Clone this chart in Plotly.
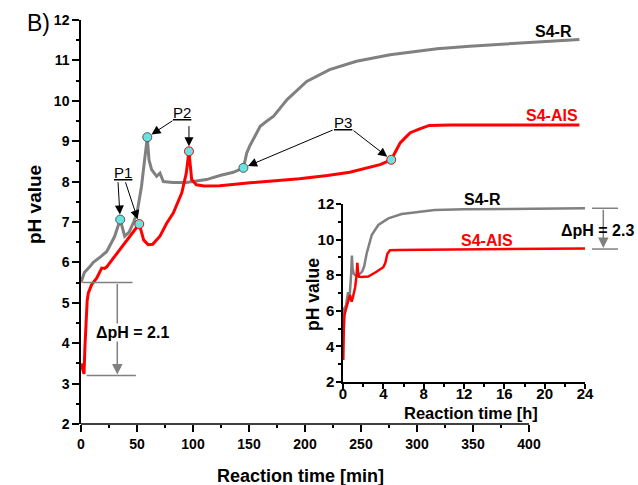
import plotly.graph_objects as go

# ---------------- data ----------------
# main plot (minutes)
gray_t = [0, 3, 8, 11, 18.5, 23, 30, 35, 39, 43, 47, 50, 54, 57, 59.2, 60.7, 63, 67.5, 70.5,
          73.5, 82, 94, 112, 124, 136, 145, 148, 151, 156, 160, 166, 172, 184, 201.5, 222,
          246, 276, 303, 318, 347, 380, 410, 445]
gray_ph = [5.5, 5.75, 5.9, 6.0, 6.16, 6.27, 6.64, 7.06, 6.65, 6.75, 7.0, 7.22, 7.88, 8.54, 9.1,
           8.54, 8.3, 8.13, 8.21, 8.0, 7.98, 7.98, 8.05, 8.15, 8.23, 8.34, 8.71, 8.9, 9.15,
           9.37, 9.5, 9.62, 10.03, 10.48, 10.77, 10.98, 11.14, 11.23, 11.29, 11.35, 11.41,
           11.45, 11.52]

red_t = [0, 1.5, 2.7, 3.5, 4.5, 5.5, 6.5, 9.5, 14, 18.5, 21, 23, 26, 33, 41, 47, 52, 54, 56,
         60, 64, 70.5, 76.5, 82.4, 90, 94, 96.4, 98.8, 103, 110, 124, 151, 175, 195, 220, 240,
         267, 277, 281, 285, 290, 294, 303, 311, 330, 380, 445]
red_ph = [3.5, 3.35, 3.24, 3.9, 4.74, 5.05, 5.24, 5.45, 5.61, 5.86, 5.85, 5.89, 6.0, 6.25, 6.55,
          6.75, 6.95, 6.75, 6.55, 6.44, 6.45, 6.65, 6.97, 7.22, 7.72, 8.21, 8.75, 8.05, 7.92,
          7.89, 7.9, 7.97, 8.02, 8.07, 8.15, 8.23, 8.42, 8.54, 8.75, 8.96, 9.1, 9.21, 9.31,
          9.39, 9.4, 9.4, 9.4]

# marked points P1, P2, P3
p_labels = ["P1", "P2", "P3"]
p_gray_t = [35, 59.2, 145]
p_gray_ph = [7.06, 9.1, 8.34]
p_red_t = [52, 96.4, 277]
p_red_ph = [6.95, 8.75, 8.54]

# inset (hours)
gray_h_t = [0, 0.1, 0.3, 0.5, 0.58, 0.68, 0.8, 0.88, 0.95, 1.05, 1.2, 1.5, 1.9, 2.1, 2.35,
            2.85, 3.5, 4.5, 5.82, 7.47, 9.1, 12, 16, 20, 24]
gray_h_ph = [5.5, 6.1, 6.3, 7.05, 6.7, 7.0, 8.0, 9.1, 8.4, 8.1, 8.0, 8.0, 8.2, 8.5, 9.23,
             10.26, 10.82, 11.19, 11.44, 11.57, 11.66, 11.7, 11.73, 11.75, 11.76]
red_h_t = [0, 0.03, 0.08, 0.15, 0.3, 0.5, 0.69, 0.78, 0.86, 1.0, 1.2, 1.35, 1.42, 1.5, 1.59,
           1.8, 2.5, 3.2, 4.0, 4.2, 4.4, 4.66, 5.5, 8, 12, 16, 20, 24]
red_h_ph = [3.5, 3.24, 5.0, 5.76, 6.1, 6.5, 6.89, 6.7, 6.51, 6.8, 7.3, 8.0, 8.7, 8.1, 7.92,
            7.9, 7.92, 8.15, 8.45, 8.7, 9.2, 9.4, 9.42, 9.43, 9.45, 9.47, 9.49, 9.5]

main_xticks = [0, 50, 100, 150, 200, 250, 300, 350, 400]
main_yticks = [2, 3, 4, 5, 6, 7, 8, 9, 10, 11, 12]
inset_xticks = [0, 4, 8, 12, 16, 20, 24]
inset_yticks = [2, 4, 6, 8, 10, 12]

# delta pH annotations (values)
dph_main = (5.5, 3.2)
dph_inset = (11.76, 9.47)

# ---------------- styling ----------------
GRAY = "#808080"
RED = "#ff0000"
CYAN = "#66e3e3"
FONT = "Liberation Sans, Arial, sans-serif"

W, H = 638, 485
ML, MR, MT, MB = 81, 53, 20, 61
PW, PH = W - ML - MR, H - MT - MB
XMAX = 450


def pxx(px):
    return (px - ML) / PW


def pxy(py):
    return (H - MB - py) / PH


fig = go.Figure()

fig.add_trace(go.Scatter(x=gray_t, y=gray_ph, mode="lines", line=dict(color=GRAY, width=3),
                         xaxis="x", yaxis="y", showlegend=False))
fig.add_trace(go.Scatter(x=red_t, y=red_ph, mode="lines", line=dict(color=RED, width=3),
                         xaxis="x", yaxis="y", showlegend=False))
fig.add_trace(go.Scatter(x=p_gray_t, y=p_gray_ph, mode="markers",
                         marker=dict(color=CYAN, size=9, line=dict(color="#555555", width=1)),
                         showlegend=False))
fig.add_trace(go.Scatter(x=p_red_t, y=p_red_ph, mode="markers",
                         marker=dict(color=CYAN, size=9, line=dict(color=RED, width=1)),
                         showlegend=False))

fig.add_trace(go.Scatter(x=gray_h_t, y=gray_h_ph, mode="lines", line=dict(color=GRAY, width=2.5),
                         xaxis="x2", yaxis="y2", showlegend=False))
fig.add_trace(go.Scatter(x=red_h_t, y=red_h_ph, mode="lines", line=dict(color=RED, width=2.5),
                         xaxis="x2", yaxis="y2", showlegend=False))

tickfont_main = dict(family=FONT, size=14, color="black", weight="bold")
tickfont_inset = dict(family=FONT, size=15, color="black", weight="bold")

# inset domain from pixel geometry
ix0, ix1, iy0, iy1 = 343, 585, 204, 382

fig.update_layout(
    width=W, height=H,
    margin=dict(l=ML, r=MR, t=MT, b=MB),
    paper_bgcolor="white", plot_bgcolor="white",
    xaxis=dict(range=[0, XMAX], showline=False, showgrid=False, zeroline=False,
               tickmode="array", tickvals=main_xticks, ticks="outside", ticklen=7,
               tickwidth=1.5, tickcolor="black", tickfont=tickfont_main,
               minor=dict(tickmode="array",
                          tickvals=[v + 25 for v in main_xticks[:-1]],
                          ticks="outside", ticklen=3, tickwidth=1.5, tickcolor="black")),
    yaxis=dict(range=[2, 12], showline=True, linecolor="black", linewidth=1.5,
               showgrid=False, zeroline=False, tickmode="array", tickvals=main_yticks,
               ticks="outside", ticklen=7, tickwidth=1.5, tickcolor="black",
               tickfont=tickfont_main,
               minor=dict(tickmode="array", tickvals=[v + 0.5 for v in main_yticks[:-1]],
                          ticks="outside", ticklen=3, tickwidth=1.5, tickcolor="black")),
    xaxis2=dict(domain=[pxx(ix0), pxx(ix1)], anchor="y2", range=[0, 24], showline=True,
                linecolor="black", linewidth=1.5, showgrid=False, zeroline=False,
                tickmode="array", tickvals=inset_xticks, ticks="outside", ticklen=5,
                tickwidth=1.5, tickcolor="black", tickfont=tickfont_inset,
                ticklabelstandoff=-8,
                minor=dict(tickmode="array", tickvals=[v + 2 for v in inset_xticks[:-1]],
                           ticks="outside", ticklen=3, tickwidth=1.5, tickcolor="black")),
    yaxis2=dict(domain=[pxy(iy1), pxy(iy0)], anchor="x2", range=[2, 12], showline=True,
                linecolor="black", linewidth=1.5, showgrid=False, zeroline=False,
                tickmode="array", tickvals=inset_yticks, ticks="outside", ticklen=5,
                tickwidth=1.5, tickcolor="black", tickfont=tickfont_inset,
                ticklabelstandoff=-1,
                minor=dict(tickmode="array", tickvals=[v + 1 for v in inset_yticks[:-1]],
                           ticks="outside", ticklen=3, tickwidth=1.5, tickcolor="black")),
)

shapes = []
# main x axis line only up to 400
shapes.append(dict(type="line", xref="paper", yref="paper", x0=0, x1=main_xticks[-1] / XMAX,
                   y0=0, y1=0, line=dict(color="black", width=1.5)))
# delta pH main: horizontal guide lines
shapes.append(dict(type="line", xref="x", yref="y", x0=1.5, x1=46, y0=dph_main[0], y1=dph_main[0],
                   line=dict(color=GRAY, width=1.5)))
shapes.append(dict(type="line", xref="x", yref="y", x0=5, x1=49, y0=dph_main[1], y1=dph_main[1],
                   line=dict(color=GRAY, width=1.5)))


# delta pH inset guide lines (paper)
def ipx(v):
    return iy1 - (v - 2) / 10 * (iy1 - iy0)


shapes.append(dict(type="line", xref="paper", yref="paper", x0=pxx(592), x1=pxx(618),
                   y0=pxy(ipx(dph_inset[0])), y1=pxy(ipx(dph_inset[0])),
                   line=dict(color=GRAY, width=1.5)))
shapes.append(dict(type="line", xref="paper", yref="paper", x0=pxx(592), x1=pxx(618),
                   y0=pxy(ipx(dph_inset[1])), y1=pxy(ipx(dph_inset[1])),
                   line=dict(color=GRAY, width=1.5)))
fig.update_layout(shapes=shapes)

ann = []


def txt(px, py, text, size, color="black", bold=True, xanchor="center", angle=0, **kw):
    f = dict(family=FONT, size=size, color=color)
    if bold:
        f["weight"] = "bold"
    return dict(x=pxx(px), y=pxy(py), xref="paper", yref="paper", text=text,
                xanchor=xanchor, yanchor="middle", textangle=angle, showarrow=False,
                font=f, **kw)


# arrows for P labels: (label pos t, pH), tails for gray and red arrows
p_label_pos = [(37.2, 8.22), (89.9, 9.7), (234, 9.47)]
p_tail_gray = [(33, 8.02), (83, 9.53), (226, 9.29)]
p_tail_red = [(39.3, 8.02), (96.4, 9.41), (242, 9.29)]
for i in range(3):
    for (tx, ty), hx, hy in [(p_tail_gray[i], p_gray_t[i], p_gray_ph[i]),
                             (p_tail_red[i], p_red_t[i], p_red_ph[i])]:
        ann.append(dict(x=hx, y=hy, xref="x", yref="y", ax=tx, ay=ty, axref="x", ayref="y",
                        text="", showarrow=True, arrowhead=2, arrowsize=1.8, arrowwidth=1,
                        arrowcolor="black", standoff=5))
    ann.append(dict(x=p_label_pos[i][0], y=p_label_pos[i][1], xref="x", yref="y",
                    xanchor="center", yanchor="middle",
                    text="<u>" + p_labels[i] + "</u>", showarrow=False,
                    font=dict(family=FONT, size=15, color="black")))

# delta pH main arrow
ann.append(dict(x=32.4, y=dph_main[1], xref="x", yref="y", ax=32.4, ay=dph_main[0],
                axref="x", ayref="y", text="", showarrow=True, arrowhead=2, arrowsize=1.4,
                arrowwidth=1.5, arrowcolor=GRAY, standoff=1))
ann.append(dict(x=46.4, y=4.26, xref="x", yref="y", text="ΔpH = 2.1", showarrow=False,
                xanchor="center", yanchor="middle", bgcolor="white", borderpad=0,
                font=dict(family=FONT, size=16, color="black", weight="bold")))
# delta pH inset arrow (pixel offset tail)
arrow_len = ipx(dph_inset[1]) - ipx(dph_inset[0])
ann.append(dict(x=pxx(603.3), y=pxy(ipx(dph_inset[1])), xref="paper", yref="paper",
                ax=0, ay=-arrow_len, axref="pixel", ayref="pixel",
                text="", showarrow=True, arrowhead=2, arrowsize=1.4, arrowwidth=1.5,
                arrowcolor=GRAY, standoff=1))
ann.append(txt(597, 230, "ΔpH = 2.3", 16))

# series labels
ann.append(txt(574, 31, "S4-R", 16, xanchor="right"))
ann.append(txt(580, 115, "S4-AIS", 16, color=RED, xanchor="right"))
ann.append(txt(482, 200, "S4-R", 16))
ann.append(txt(487, 240, "S4-AIS", 16, color=RED))

# axis titles
ann.append(txt(300, 476, "Reaction time [min]", 18))
ann.append(txt(35, 205, "pH value", 19, angle=-90))
ann.append(txt(471, 413, "Reaction time [h]", 16.5))
ann.append(txt(313, 295, "pH value", 17.5, angle=-90))
# panel label
ann.append(txt(38, 23, "B)", 23, bold=False))

fig.update_layout(annotations=ann)

fig.write_html("out.html")
